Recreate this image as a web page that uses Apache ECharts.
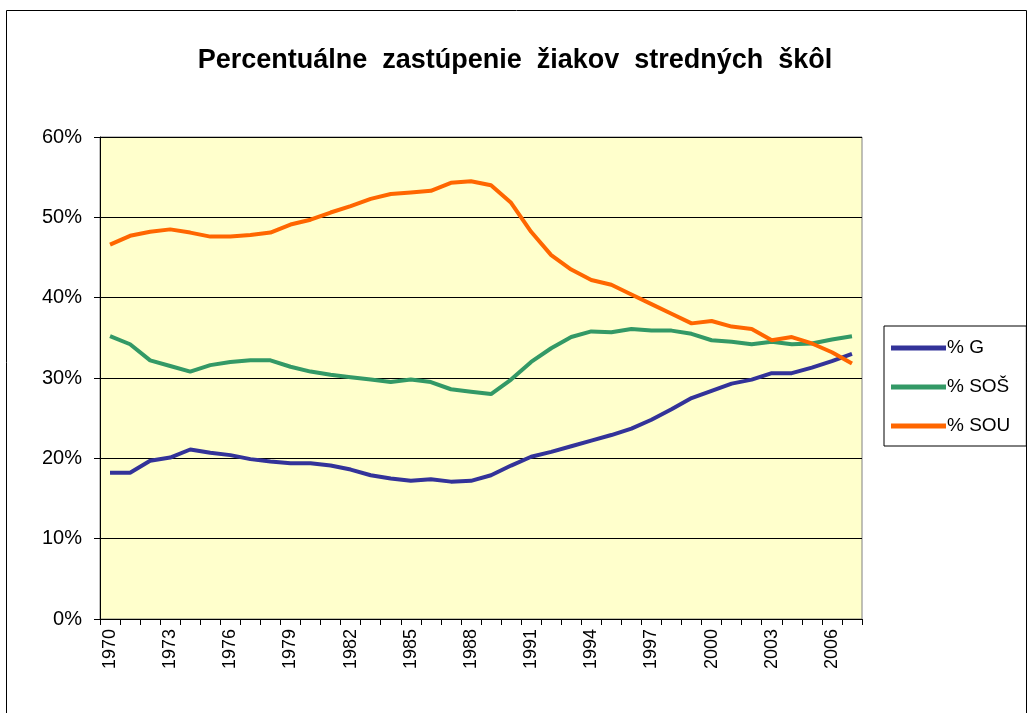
<!DOCTYPE html>
<html>
<head>
<meta charset="utf-8">
<script src="https://cdn.jsdelivr.net/npm/echarts@6/dist/echarts.min.js"></script>
<style>
  html, body { margin: 0; padding: 0; background: #fff; }
  #chart { width: 1030px; height: 713px; }
</style>
</head>
<body>
<div id="chart"></div>
<script>
// roky 1970 - 2007
const years = []
for (let y = 1970; y <= 2007; y++) years.push(String(y))

const seriesNames = ['% G', '% SOŠ', '% SOU']

const valuesG = [18.2, 18.2, 19.7, 20.1, 21.1, 20.7, 20.4, 19.9, 19.6, 19.4,
  19.4, 19.1, 18.6, 17.9, 17.5, 17.2, 17.4, 17.1, 17.2, 17.9,
  19.1, 20.2, 20.8, 21.5, 22.2, 22.9, 23.7, 24.8, 26.1, 27.5,
  28.4, 29.3, 29.8, 30.6, 30.6, 31.3, 32.1, 33.0]

const valuesSOS = [35.2, 34.2, 32.2, 31.5, 30.8, 31.6, 32.0, 32.2, 32.2, 31.4,
  30.8, 30.4, 30.1, 29.8, 29.5, 29.8, 29.5, 28.6, 28.3, 28.0,
  29.8, 32.0, 33.7, 35.1, 35.8, 35.7, 36.1, 35.9, 35.9, 35.5,
  34.7, 34.5, 34.2, 34.5, 34.2, 34.3, 34.8, 35.2]

const valuesSOU = [46.6, 47.7, 48.2, 48.5, 48.1, 47.6, 47.6, 47.8, 48.1, 49.1,
  49.7, 50.6, 51.4, 52.3, 52.9, 53.1, 53.3, 54.3, 54.5, 54.0,
  51.8, 48.2, 45.3, 43.5, 42.2, 41.6, 40.4, 39.2, 38.0, 36.8,
  37.1, 36.4, 36.1, 34.7, 35.1, 34.3, 33.2, 31.8]

const colors = ['#333399', '#339966', '#FF6600']

const chart = echarts.init(document.getElementById('chart'))

const mkSeries = (name, data, color) => ({
  name: name,
  type: 'line',
  data: data,
  symbol: 'none',
  smooth: false,
  lineStyle: { color: color, width: 4 },
  itemStyle: { color: color }
})

const option = {
  animation: false,
  title: {
    text: 'Percentuálne  zastúpenie  žiakov  stredných  škôl',
    left: 'center',
    top: 42,
    textStyle: {
      fontFamily: 'Liberation Sans',
      fontSize: 27,
      fontWeight: 'bold',
      color: '#000'
    }
  },
  graphic: [{
    type: 'rect',
    shape: { x: 6.5, y: 10.5, width: 1020, height: 710 },
    style: { fill: 'none', stroke: '#000', lineWidth: 1 },
    silent: true
  }],
  legend: {
    orient: 'vertical',
    left: 884,
    top: 326,
    data: seriesNames,
    icon: 'rect',
    itemWidth: 55,
    itemHeight: 5,
    itemGap: 19,
    padding: [12, 16, 10, 7],
    borderColor: '#000',
    borderWidth: 1,
    textStyle: {
      fontFamily: 'Liberation Sans',
      fontSize: 19,
      lineHeight: 20,
      color: '#000',
      padding: [0, 0, 0, -4]
    }
  },
  grid: {
    left: 100,
    right: 168,
    top: 137,
    bottom: 94,
    show: true,
    backgroundColor: '#FFFFCC',
    borderColor: '#808080',
    borderWidth: 1
  },
  xAxis: {
    type: 'category',
    data: years,
    boundaryGap: true,
    axisLine: { show: true, lineStyle: { color: '#000', width: 1 } },
    axisTick: { show: true, interval: 0, length: 6, lineStyle: { color: '#000' } },
    axisLabel: {
      interval: 2,
      rotate: 90,
      margin: 10,
      fontFamily: 'Liberation Sans',
      fontSize: 18,
      color: '#000'
    },
    splitLine: { show: false }
  },
  yAxis: {
    type: 'value',
    min: 0,
    max: 60,
    interval: 10,
    axisLine: { show: true, lineStyle: { color: '#000', width: 1 } },
    axisTick: { show: true, length: 6, lineStyle: { color: '#000' } },
    axisLabel: {
      formatter: '{value}%',
      margin: 18,
      fontFamily: 'Liberation Sans',
      fontSize: 20,
      color: '#000'
    },
    splitLine: { show: true, lineStyle: { color: '#000', width: 1 } }
  },
  series: [
    mkSeries(seriesNames[0], valuesG, colors[0]),
    mkSeries(seriesNames[1], valuesSOS, colors[1]),
    mkSeries(seriesNames[2], valuesSOU, colors[2])
  ]
}

option && chart.setOption(option)
</script>
</body>
</html>
